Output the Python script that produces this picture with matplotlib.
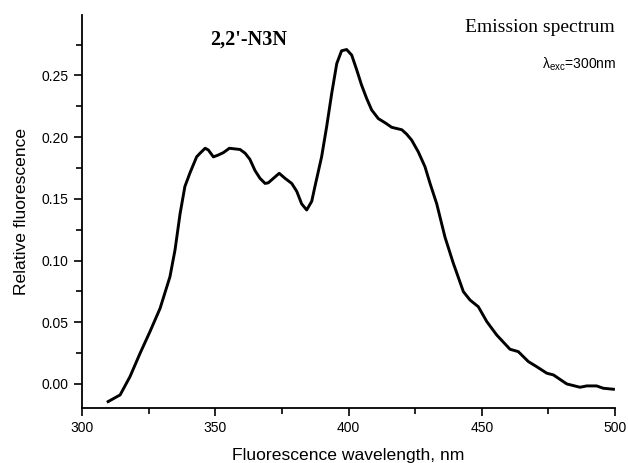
import matplotlib
matplotlib.use("Agg")
import matplotlib.pyplot as plt
from matplotlib.ticker import MultipleLocator

plt.rcParams["mathtext.default"] = "regular"

wavelength = [309.8, 314.3, 318.0, 321.8, 325.5, 329.3, 333.0, 334.9, 336.8, 338.6,
              340.5, 343.0, 344.3, 346.2, 347.4, 349.3, 351.1, 353.0, 355.3, 359.3,
              361.2, 363.0, 364.9, 366.8, 368.7, 369.9, 371.8, 374.0, 376.2, 378.7,
              380.6, 382.4, 384.3, 386.2, 387.4, 389.9, 391.8, 393.7, 395.6, 397.4,
              399.3, 401.2, 403.1, 404.9, 406.8, 408.7, 411.2, 413.7, 416.2, 418.1,
              420.0, 421.8, 423.7, 426.2, 428.7, 430.6, 433.1, 436.2, 439.3, 443.1,
              445.6, 448.7, 451.9, 455.6, 460.6, 463.7, 467.5, 470.6, 474.4, 476.9,
              481.9, 486.9, 489.4, 493.1, 495.6, 499.4]
fluorescence = [-0.0143, -0.0089, 0.0059, 0.0249, 0.0424, 0.0613, 0.0869, 0.1086, 0.138, 0.160,
                0.171, 0.184, 0.187, 0.191, 0.1896, 0.184, 0.1855, 0.1874, 0.191, 0.190,
                0.187, 0.182, 0.173, 0.1666, 0.1625, 0.163, 0.1666, 0.1707, 0.1666, 0.1625,
                0.156, 0.146, 0.141, 0.148, 0.160, 0.184, 0.2085, 0.2355, 0.2597, 0.270,
                0.271, 0.2665, 0.2544, 0.2422, 0.2314, 0.222, 0.215, 0.2117, 0.208, 0.207,
                0.206, 0.2025, 0.1976, 0.188, 0.176, 0.1625, 0.146, 0.119, 0.098, 0.0748,
                0.068, 0.0626, 0.0505, 0.0397, 0.0281, 0.0262, 0.0181, 0.014, 0.0087, 0.0073,
                0.0, -0.0027, -0.0016, -0.0016, -0.0035, -0.0043]

x_ticks = [300, 350, 400, 450, 500]
y_ticks = [0.00, 0.05, 0.10, 0.15, 0.20, 0.25]

fig = plt.figure(figsize=(6.28, 4.63), dpi=100)
ax = fig.add_axes([0.1306, 0.1188, 0.8487, 0.8488])
ax.plot(wavelength, fluorescence, color="black", lw=2.1, solid_joinstyle="round")

ax.set_xlim(300, 500)
ax.set_ylim(-0.0195, 0.299)
ax.set_xticks(x_ticks)
ax.set_yticks(y_ticks)
ax.set_yticklabels([f"{v:.2f}" for v in y_ticks])
ax.xaxis.set_minor_locator(MultipleLocator(25))
ax.yaxis.set_minor_locator(MultipleLocator(0.025))
for s in ["top", "right"]:
    ax.spines[s].set_visible(False)
for s in ["left", "bottom"]:
    ax.spines[s].set_linewidth(1.3)
ax.tick_params(which="major", direction="out", length=6, width=1.2,
               labelsize=10, labelfontfamily="Liberation Sans")
ax.tick_params(which="minor", direction="out", length=4, width=1.2)

ax.set_xlabel("Fluorescence wavelength, nm", fontsize=12.6, family="Liberation Sans", labelpad=9)
ax.set_ylabel("Relative fluorescence", fontsize=12.6, family="Liberation Sans", labelpad=9)

fig.text(249/628, 1 - 40/463, "2,2'-N3N", ha="center", va="center",
         fontsize=14.5, fontweight="bold", family="Liberation Serif")
fig.text(615/628, 1 - 27/463, "Emission spectrum", ha="right", va="center",
         fontsize=14, family="Liberation Serif")
fig.text(616/628, 1 - 64/463, r"$\lambda_{exc}$=300nm", ha="right", va="center",
         fontsize=10, family="Liberation Sans")

fig.savefig("out.png", dpi=100)
